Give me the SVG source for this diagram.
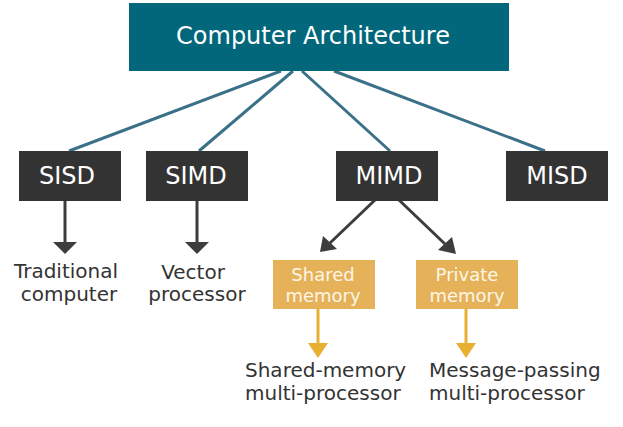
<svg xmlns="http://www.w3.org/2000/svg" width="623" height="427" viewBox="0 0 623 427">
<defs>
<style>
text{font-family:"DejaVu Sans","Verdana",sans-serif}
.title{font-size:24px;fill:#ffffff;text-anchor:middle}
.lvl{font-size:24px;fill:#ffffff;text-anchor:middle}
.dark{fill:#333333}
.yel{fill:#e5b25a}
.ytxt{font-size:18px;fill:#fdf6e8;text-anchor:middle}
.lbl{font-size:20px;fill:#333333}
.mid{text-anchor:middle}
.blue{stroke:#3b7089;stroke-width:3;fill:none}
.darkl{stroke:#3d3d3d;stroke-width:3;fill:none}
.yl{stroke:#e8b030;stroke-width:3;fill:none}
</style>
</defs>
<g id="connectors">
<line class="blue" x1="281" y1="71" x2="69" y2="151"/>
<line class="blue" x1="293" y1="71" x2="199" y2="151"/>
<line class="blue" x1="302" y1="71" x2="390" y2="151"/>
<line class="blue" x1="334" y1="71" x2="545" y2="151"/>
<line class="darkl" x1="65" y1="200" x2="65" y2="243"/>
<path d="M53,242 L77,242 L65,254 z" fill="#3d3d3d"/>
<line class="darkl" x1="197" y1="200" x2="197" y2="243"/>
<path d="M185,242 L209,242 L197,254 z" fill="#3d3d3d"/>
<line class="darkl" x1="375" y1="200" x2="330" y2="243"/>
<path d="M320,252 L323,236 L337,249 z" fill="#3d3d3d"/>
<line class="darkl" x1="399" y1="200" x2="445" y2="244"/>
<path d="M456,254 L438,250 L452,237 z" fill="#3d3d3d"/>
<line class="yl" x1="318" y1="309" x2="318" y2="344"/>
<path d="M308,343 L328,343 L318,358 z" fill="#e8b030"/>
<line class="yl" x1="466" y1="309" x2="466" y2="344"/>
<path d="M456,343 L476,343 L466,358 z" fill="#e8b030"/>
</g>
<g id="computer-architecture">
<rect x="129" y="3" width="380" height="68" fill="#02677b"/>
<text class="title" x="313" y="44">Computer Architecture</text>
</g>
<g id="sisd">
<rect class="dark" x="19" y="151" width="102" height="50"/>
<text class="lvl" x="67" y="184">SISD</text>
</g>
<g id="simd">
<rect class="dark" x="146" y="151" width="102" height="50"/>
<text class="lvl" x="196" y="184">SIMD</text>
</g>
<g id="mimd">
<rect class="dark" x="336" y="151" width="102" height="50"/>
<text class="lvl" x="389" y="184">MIMD</text>
</g>
<g id="misd">
<rect class="dark" x="506" y="151" width="102" height="50"/>
<text class="lvl" x="557" y="184">MISD</text>
</g>
<g id="traditional-computer">
<text class="lbl mid" x="66" y="278">Traditional</text>
<text class="lbl mid" x="69" y="301">computer</text>
</g>
<g id="vector-processor">
<text class="lbl mid" x="193" y="279">Vector</text>
<text class="lbl mid" x="197" y="301">processor</text>
</g>
<g id="shared-memory">
<rect class="yel" x="273" y="260" width="102" height="49"/>
<text class="ytxt" x="323" y="281">Shared</text>
<text class="ytxt" x="323" y="302">memory</text>
</g>
<g id="private-memory">
<rect class="yel" x="416" y="260" width="102" height="49"/>
<text class="ytxt" x="467" y="281">Private</text>
<text class="ytxt" x="467" y="302">memory</text>
</g>
<g id="shared-memory-multiprocessor">
<text class="lbl" x="245" y="377">Shared-memory</text>
<text class="lbl" x="245" y="400">multi-processor</text>
</g>
<g id="message-passing-multiprocessor">
<text class="lbl" x="429" y="377">Message-passing</text>
<text class="lbl" x="429" y="400">multi-processor</text>
</g>
</svg>
